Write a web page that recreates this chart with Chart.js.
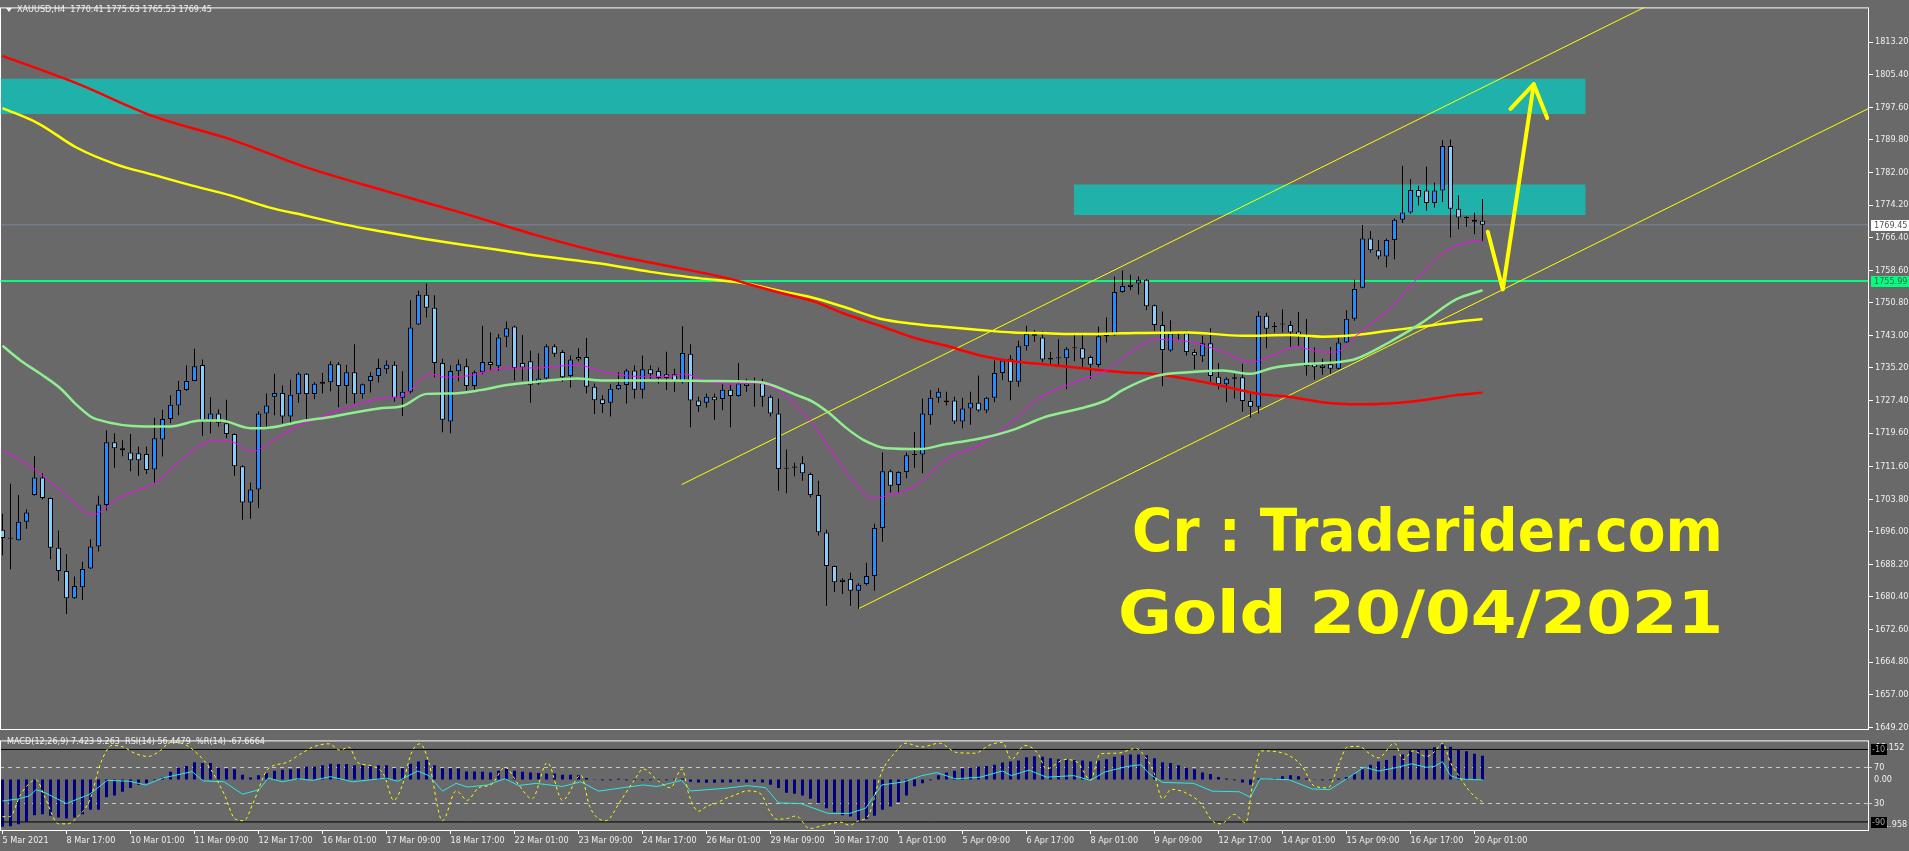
<!DOCTYPE html>
<html>
<head>
<meta charset="utf-8">
<title>XAUUSD H4</title>
<script src="https://cdn.jsdelivr.net/npm/chart.js@4.4.1/dist/chart.umd.min.js"></script>
<style>
  html, body { margin: 0; padding: 0; }
  body { width: 1909px; height: 851px; background: #696969; position: relative; overflow: hidden;
         font-family: "DejaVu Sans Condensed", "DejaVu Sans", sans-serif; }
  canvas { position: absolute; left: 0; }
  #mainChart { top: 0; }
  #indChart { top: 733px; }
  .txt { position: absolute; color: #f2f2f2; font-size: 9px; line-height: 11px; white-space: pre; }
  .big { position: absolute; color: #ffff00; font: bold 58px "DejaVu Sans", sans-serif; line-height: 58px;
         white-space: pre; transform-origin: 0 0; }
  .tri { position: absolute; left: 6px; top: 8px; width: 0; height: 0; border-left: 3px solid transparent;
         border-right: 3px solid transparent; border-top: 4px solid #f2f2f2; }
</style>
</head>
<body>
<canvas id="mainChart" width="1909" height="740"></canvas>
<canvas id="indChart" width="1909" height="118"></canvas>
<div class="tri"></div>
<div class="txt" id="title" style="left:17px;top:4px"></div>
<div class="txt" id="indTitle" style="left:7px;top:736px"></div>
<div class="big" id="big1" style="left:1132px;top:502px"></div>
<div class="big" id="big2" style="left:1118px;top:584px"></div>
<script>
// ---- data (bar index 0 = 5 Mar 2021, 185 = 20 Apr 05:00) ----
const open = [
  1696.5, 1694.4, 1694.0, 1698.4, 1704.8, 1709.0, 1704.1, 1692.2, 1686.6, 1680.1,
  1682.7, 1687.2, 1692.5, 1702.4, 1717.4, 1716.0, 1715.0, 1714.8, 1714.6, 1710.9,
  1718.1, 1723.0, 1726.2, 1729.9, 1732.1, 1735.9, 1722.6, 1724.3, 1722.0, 1719.4,
  1711.7, 1703.0, 1706.1, 1724.3, 1728.3, 1729.2, 1723.6, 1728.9, 1733.8, 1729.0,
  1731.4, 1731.8, 1736.1, 1730.9, 1734.2, 1728.9, 1732.1, 1733.3, 1734.9, 1736.0,
  1728.1, 1729.5, 1745.6, 1752.7, 1749.6, 1736.4, 1722.4, 1734.4, 1735.6, 1730.9,
  1734.2, 1736.6, 1735.6, 1742.7, 1745.1, 1736.4, 1736.8, 1731.5, 1732.7, 1740.4,
  1739.0, 1733.3, 1737.8, 1737.8, 1730.7, 1727.7, 1726.9, 1730.1, 1731.1, 1734.6,
  1730.0, 1734.9, 1734.5, 1733.7, 1733.7, 1731.9, 1738.6, 1727.4, 1726.9, 1728.3,
  1727.8, 1730.0, 1728.5, 1731.5, 1731.7, 1731.7, 1728.3, 1724.3, 1711.3, 1711.3,
  1712.4, 1709.8, 1704.8, 1695.8, 1687.8, 1684.0, 1684.7, 1681.9, 1683.5, 1685.4,
  1696.9, 1710.5, 1707.2, 1710.3, 1714.5, 1714.5, 1723.9, 1728.1, 1727.0, 1727.4,
  1722.4, 1725.5, 1726.9, 1725.0, 1728.1, 1734.0, 1737.4, 1731.9, 1740.4, 1743.3,
  1742.5, 1737.2, 1737.6, 1737.5, 1739.9, 1739.9, 1737.8, 1735.9, 1742.8, 1743.1,
  1753.4, 1754.6, 1755.4, 1756.3, 1750.2, 1745.5, 1739.4, 1743.5, 1743.5, 1739.0,
  1738.0, 1741.1, 1733.1, 1731.3, 1732.6, 1733.0, 1727.3, 1725.9, 1747.7, 1745.0,
  1745.7, 1745.5, 1743.9, 1743.1, 1736.2, 1735.2, 1736.1, 1735.0, 1741.3, 1747.0,
  1754.4, 1766.2, 1763.4, 1761.9, 1765.8, 1770.7, 1772.4, 1777.8, 1777.7, 1774.7,
  1777.7, 1788.3, 1773.3, 1771.2, 1770.7, 1770.41
];
const high = [
  1700.3, 1707.5, 1704.8, 1701.3, 1714.1, 1710.0, 1704.2, 1696.3, 1690.6, 1685.3,
  1688.8, 1694.2, 1704.6, 1720.3, 1719.6, 1717.9, 1719.4, 1716.4, 1716.4, 1723.3,
  1725.2, 1728.7, 1732.1, 1735.8, 1739.8, 1737.2, 1728.2, 1725.3, 1727.6, 1719.6,
  1711.9, 1707.8, 1724.8, 1729.1, 1733.8, 1731.0, 1732.4, 1734.2, 1734.0, 1731.8,
  1734.0, 1736.8, 1736.6, 1735.9, 1740.9, 1731.5, 1734.2, 1737.4, 1737.0, 1736.8,
  1734.4, 1751.4, 1753.7, 1755.4, 1752.6, 1737.4, 1735.8, 1737.2, 1737.4, 1734.6,
  1745.3, 1743.7, 1743.3, 1746.3, 1745.3, 1743.1, 1739.4, 1738.7, 1740.9, 1740.9,
  1739.5, 1738.2, 1739.9, 1742.4, 1731.5, 1728.7, 1731.3, 1734.2, 1735.0, 1735.8,
  1738.2, 1735.8, 1735.3, 1739.1, 1735.0, 1745.2, 1740.9, 1728.3, 1729.1, 1729.1,
  1731.5, 1731.1, 1736.4, 1732.6, 1732.9, 1732.6, 1728.7, 1727.9, 1715.7, 1712.5,
  1714.1, 1710.1, 1708.2, 1696.5, 1687.9, 1684.9, 1686.2, 1683.7, 1688.6, 1697.9,
  1715.0, 1710.9, 1710.5, 1715.0, 1719.9, 1727.9, 1729.9, 1730.4, 1729.5, 1728.3,
  1728.1, 1729.5, 1733.4, 1728.3, 1737.0, 1737.4, 1738.3, 1741.7, 1745.3, 1744.3,
  1743.9, 1739.0, 1742.1, 1740.2, 1743.1, 1743.1, 1738.2, 1745.1, 1747.3, 1757.1,
  1758.5, 1757.5, 1757.1, 1756.5, 1750.4, 1748.7, 1746.6, 1743.6, 1744.1, 1739.7,
  1742.9, 1744.7, 1736.4, 1733.0, 1733.8, 1736.2, 1729.1, 1748.8, 1748.4, 1746.2,
  1749.2, 1746.5, 1748.6, 1746.9, 1740.1, 1737.4, 1740.2, 1742.5, 1749.0, 1756.3,
  1769.4, 1768.0, 1765.8, 1766.2, 1771.0, 1783.6, 1780.4, 1778.8, 1783.4, 1779.6,
  1789.7, 1789.9, 1776.5, 1771.5, 1772.4, 1775.63
];
const low = [
  1690.4, 1687.0, 1693.9, 1696.7, 1704.6, 1703.7, 1689.4, 1684.2, 1676.3, 1679.9,
  1679.7, 1687.1, 1691.3, 1701.1, 1711.3, 1714.1, 1710.5, 1709.4, 1709.8, 1707.8,
  1714.0, 1722.0, 1723.9, 1729.7, 1732.0, 1719.0, 1719.5, 1721.2, 1718.4, 1709.4,
  1698.9, 1699.1, 1701.7, 1721.2, 1723.9, 1722.0, 1721.6, 1726.9, 1722.8, 1727.7,
  1729.1, 1729.6, 1725.8, 1726.7, 1726.7, 1727.9, 1729.3, 1731.7, 1733.8, 1727.1,
  1723.7, 1729.1, 1745.5, 1747.3, 1733.0, 1719.8, 1719.6, 1732.0, 1729.8, 1729.9,
  1733.7, 1734.6, 1734.6, 1740.2, 1732.2, 1732.2, 1726.9, 1731.2, 1732.3, 1737.8,
  1731.9, 1730.5, 1736.8, 1729.1, 1724.2, 1724.4, 1723.6, 1729.9, 1726.7, 1727.9,
  1727.9, 1732.6, 1731.5, 1729.9, 1729.5, 1731.5, 1721.0, 1724.7, 1725.7, 1722.8,
  1725.1, 1721.0, 1728.3, 1729.5, 1725.9, 1725.9, 1723.6, 1705.8, 1705.2, 1709.3,
  1708.2, 1704.2, 1695.1, 1678.3, 1681.6, 1681.1, 1678.3, 1677.5, 1683.2, 1681.9,
  1693.6, 1705.4, 1705.4, 1708.8, 1711.3, 1710.0, 1721.6, 1726.9, 1726.2, 1721.8,
  1720.8, 1721.6, 1724.7, 1724.4, 1727.0, 1732.3, 1727.5, 1730.7, 1739.4, 1741.5,
  1736.6, 1736.0, 1735.6, 1730.1, 1736.8, 1735.4, 1732.6, 1735.4, 1741.3, 1742.9,
  1753.2, 1753.8, 1752.8, 1749.1, 1744.1, 1730.8, 1739.1, 1742.0, 1738.2, 1734.9,
  1736.6, 1731.9, 1730.1, 1727.0, 1727.9, 1724.7, 1723.3, 1724.3, 1739.9, 1743.7,
  1743.7, 1740.3, 1740.5, 1733.4, 1732.4, 1733.6, 1733.8, 1734.9, 1741.2, 1746.5,
  1754.3, 1762.8, 1761.2, 1759.3, 1761.2, 1769.9, 1772.1, 1774.1, 1772.8, 1773.6,
  1774.9, 1766.4, 1768.4, 1769.0, 1767.2, 1765.53
];
const close = [
  1694.5, 1694.3, 1698.4, 1700.6, 1709.0, 1704.1, 1692.2, 1686.6, 1680.1, 1683.0,
  1687.1, 1692.5, 1702.5, 1717.4, 1716.0, 1715.5, 1713.1, 1713.1, 1710.8, 1718.4,
  1723.0, 1726.4, 1729.9, 1732.1, 1735.6, 1722.6, 1724.3, 1722.1, 1719.4, 1711.7,
  1703.0, 1706.1, 1724.3, 1726.2, 1729.2, 1723.6, 1728.8, 1733.8, 1729.0, 1731.4,
  1731.9, 1736.1, 1730.9, 1734.2, 1728.9, 1731.3, 1733.3, 1735.2, 1736.0, 1728.1,
  1729.5, 1744.9, 1752.7, 1749.6, 1736.4, 1722.8, 1734.5, 1736.1, 1730.9, 1734.2,
  1736.6, 1735.9, 1742.5, 1744.7, 1735.2, 1735.3, 1731.2, 1732.7, 1740.4, 1738.6,
  1733.0, 1737.2, 1737.2, 1730.7, 1727.5, 1726.6, 1730.2, 1731.1, 1734.6, 1730.0,
  1734.9, 1733.7, 1732.8, 1732.8, 1731.9, 1738.8, 1727.4, 1726.1, 1728.3, 1727.5,
  1730.0, 1728.5, 1731.5, 1730.9, 1732.0, 1728.3, 1724.3, 1711.0, 1711.1, 1711.6,
  1710.0, 1704.8, 1695.9, 1687.8, 1683.9, 1684.5, 1681.9, 1683.3, 1685.4, 1696.9,
  1710.5, 1707.0, 1710.3, 1714.3, 1714.4, 1724.3, 1728.1, 1729.5, 1727.4, 1722.4,
  1725.5, 1726.9, 1725.0, 1728.1, 1734.0, 1737.0, 1731.9, 1740.4, 1743.3, 1742.9,
  1737.2, 1737.6, 1737.5, 1739.8, 1740.0, 1737.4, 1736.0, 1742.8, 1743.1, 1753.4,
  1754.8, 1755.1, 1756.3, 1750.0, 1745.5, 1739.5, 1743.5, 1743.4, 1739.0, 1738.2,
  1741.1, 1733.3, 1731.3, 1732.6, 1733.0, 1727.3, 1725.9, 1747.7, 1744.6, 1745.1,
  1745.6, 1743.7, 1743.1, 1735.6, 1735.4, 1735.8, 1735.0, 1741.3, 1747.0, 1754.1,
  1766.2, 1763.4, 1761.9, 1765.8, 1770.7, 1772.4, 1777.8, 1776.2, 1774.7, 1777.7,
  1788.3, 1773.3, 1771.2, 1771.1, 1770.2, 1769.45
];

// moving averages, read as [bar, price] points
const maRed = [[0,1809.9],[9.3,1803.3],[18.9,1795.4],[28.5,1789.9],[38,1783.2],[47.6,1777.7],[57.1,1772.5],
  [66.7,1767.0],[74.75,1762.9],[83.5,1759.5],[87.7,1757.9],[91.8,1756.1],[93,1755.4],[97.2,1753.2],[101.3,1751.2],
  [105.5,1748.0],[109.7,1745.3],[113.8,1742.5],[118,1740.5],[122.2,1738.2],[126.3,1736.8],[130.5,1736.0],
  [134.7,1735.2],[140,1734.2],[144.2,1733.7],[148.3,1732.5],[152.5,1730.9],[156.7,1729.1],[160.8,1728.3],
  [165,1727.0],[169.2,1726.5],[173.3,1726.7],[177.5,1727.5],[181.7,1728.7],[185,1729.3]];
const maYellow = [[0,1797.4],[4.5,1793.7],[9.3,1787.9],[14.1,1784.0],[18.9,1781.4],[23.6,1778.9],[28.5,1776.5],
  [33.2,1773.7],[38,1771.6],[42.8,1769.5],[47.6,1767.8],[52.4,1766.2],[57.1,1764.8],[61.9,1763.5],[66.7,1762.1],
  [74.75,1760.2],[81,1758.2],[87,1756.7],[93,1755.4],[97.2,1753.6],[101.3,1752.0],[105.5,1749.6],[109.7,1747.0],
  [113.8,1745.8],[118,1745.0],[122.2,1744.3],[126.3,1743.7],[130.5,1743.5],[134.7,1743.3],[140,1743.5],
  [148.3,1743.7],[155,1742.9],[160.8,1743.1],[165,1742.7],[169.2,1743.1],[173.3,1744.1],[177.5,1745.1],
  [181.7,1746.2],[185,1746.9]];
const maGreen = [[0,1740.5],[2.25,1737.0],[4.75,1733.8],[7.25,1730.3],[9.3,1726.3],[11,1723.6],[11.8,1722.9],
  [17.7,1721.2],[21,1721.2],[24.75,1722.6],[27.25,1722.6],[31,1720.8],[32.7,1720.8],[37.25,1722.4],[41.4,1723.6],
  [47,1725.5],[50,1726.1],[53,1729.0],[56.4,1729.1],[59.75,1729.9],[63,1731.1],[66.8,1731.9],[71.8,1732.7],
  [75,1732.2],[81.4,1732.2],[87.7,1732.1],[93.5,1731.9],[95.5,1731.5],[99.25,1728.7],[101.3,1727.1],
  [103.4,1724.3],[105.5,1720.8],[107.6,1718.0],[110.5,1716.0],[114.7,1715.8],[118,1717.0],[122.2,1718.3],
  [126.3,1720.4],[130.5,1723.6],[134.7,1725.5],[138,1727.5],[140,1729.9],[144.2,1733.3],[148.3,1734.2],
  [152.5,1734.6],[156,1733.8],[158.75,1735.2],[163,1736.2],[167,1736.6],[169.2,1737.4],[173.3,1741.3],
  [177.5,1746.1],[181.7,1751.6],[185,1753.8]];
const maMagenta = [[0,1715.5],[4,1711.0],[8,1704.6],[11.3,1700.1],[14.3,1703.8],[17.3,1706.2],[19.2,1707.8],
  [22,1712.5],[24.5,1716.5],[27,1717.9],[29,1717.3],[31,1715.1],[34.3,1718.4],[36,1720.4],[39,1722.8],
  [42.3,1725.2],[44,1726.3],[47,1727.8],[50.2,1728.7],[53.5,1733.8],[55.2,1733.0],[58.5,1733.4],[62.7,1735.2],
  [66.8,1735.2],[69.3,1735.6],[71.8,1735.9],[75.2,1734.2],[79.3,1733.2],[83.5,1733.2],[85.2,1733.8],
  [87.7,1732.2],[91,1731.3],[93.5,1731.6],[95.5,1731.2],[100.5,1723.6],[103.4,1716.1],[106.3,1708.2],
  [108.8,1704.0],[110.5,1704.6],[113.8,1706.6],[118,1713.3],[122.2,1716.8],[126.3,1722.4],[129.25,1727.5],
  [134.7,1732.3],[138,1734.6],[140,1737.4],[144.2,1742.0],[148.3,1741.5],[152.5,1739.1],[156,1736.6],
  [158.75,1738.2],[161.7,1740.2],[165,1739.0],[166.7,1739.0],[169.2,1742.9],[173.3,1749.2],[177.5,1757.9],
  [180,1762.7],[183.3,1765.3],[185,1765.8]];

// drawn objects
const zoneTop = [1804.4, 1779.1];
const zoneBottom = [1796.0, 1771.8];
const zoneStart = [-5, 133.9];
const zoneEnd = [197.9, 197.9];
const channelBars = [[84.9, 240], [107, 240]];
const channelPrices = [[1707.3, 1854.5], [1677.6, 1803.7]];
const arrowBars = [185.66, 187.54, 191.41];
const arrowPrices = [1767.8, 1754.0, 1803.1];
const arrowHeadBars = [188.5, 191.41, 193.09];
const arrowHeadPrices = [1797.2, 1803.1, 1795.0];
const currentPrice = 1769.45;
const levelPrice = 1755.99;

const priceTicks = [1813.20, 1805.40, 1797.60, 1789.80, 1782.00, 1774.20, 1766.40, 1758.60, 1750.80, 1743.00,
  1735.20, 1727.40, 1719.60, 1711.60, 1703.80, 1696.00, 1688.20, 1680.40, 1672.60, 1664.80, 1657.00, 1649.20];
const timeTicks = [0, 8, 16, 24, 32, 40, 48, 56, 64, 72, 80, 88, 96, 104, 112, 120, 128, 136, 144, 152, 160, 168, 176, 184];
const timeLabels = ['5 Mar 2021', '8 Mar 17:00', '10 Mar 01:00', '11 Mar 09:00', '12 Mar 17:00', '16 Mar 01:00',
  '17 Mar 09:00', '18 Mar 17:00', '22 Mar 01:00', '23 Mar 09:00', '24 Mar 17:00', '26 Mar 01:00', '29 Mar 09:00',
  '30 Mar 17:00', '1 Apr 01:00', '5 Apr 09:00', '6 Apr 17:00', '8 Apr 01:00', '9 Apr 09:00', '12 Apr 17:00',
  '14 Apr 01:00', '15 Apr 09:00', '16 Apr 17:00', '20 Apr 01:00'];

// indicator window
const macdHist = [
  -14.7, -14.5, -13.9, -13.1, -11.1, -10.8, -11.3, -11.8, -12.1, -11.8,
  -10.8, -9.4, -9.4, -5.5, -5.0, -3.8, -2.6, -1.6, -1.2, -0.2,
  0.6, 2.4, 3.7, 4.2, 5.4, 5.1, 5.1, 3.7, 3.4, 3.2,
  1.5, 0.6, 1.3, 2.0, 2.7, 3.0, 3.2, 3.4, 4.0, 4.0,
  4.4, 4.9, 4.8, 4.8, 4.4, 4.4, 4.2, 4.4, 4.4, 3.5,
  3.5, 4.9, 5.6, 6.1, 4.4, 3.5, 3.5, 3.4, 2.5, 2.5,
  2.4, 2.2, 2.7, 3.4, 2.7, 2.4, 2.2, 2.0, 1.9, 1.9,
  1.5, 1.5, 1.3, 0.5, 0.1, -0.2, -0.2, 0.2, -0.2, -0.2,
  -0.2, -0.2, -0.2, -0.2, 0.2, 0.3, -0.7, -0.9, -1.0, -1.0,
  -0.9, -0.9, -0.7, -0.9, -0.7, -0.9, -1.6, -2.6, -4.1, -4.4,
  -5.0, -6.0, -7.4, -8.9, -10.2, -11.1, -11.5, -12.8, -12.3, -11.3,
  -9.4, -8.4, -7.0, -5.0, -2.1, -1.2, -0.2, 1.3, 2.2, 2.7,
  3.4, 3.7, 4.0, 4.2, 4.6, 5.3, 5.6, 5.9, 6.9, 7.2,
  7.1, 6.6, 6.3, 6.3, 6.1, 5.9, 5.6, 5.9, 6.3, 7.1,
  7.5, 7.8, 7.8, 7.5, 6.6, 5.4, 5.1, 4.4, 3.7, 3.2,
  2.2, 1.7, 0.8, 0.3, -0.2, -0.9, -1.6, 0.3, 0.1, 0.3,
  1.0, 1.3, 1.0, 0.3, 0.1, -0.2, -0.2, 0.3, 0.8, 1.7,
  3.2, 4.6, 5.6, 6.1, 7.4, 7.8, 9.0, 9.2, 9.5, 10.0,
  10.9, 10.2, 9.5, 8.8, 8.0, 7.4
];
const rsiBars = [0, 2, 3.4, 4.2, 5.3, 8, 10.9, 13.1, 15.9, 17.9, 20.1, 23.7, 25.1, 27.7, 30, 32.1, 33.2, 35, 36.9,
  38.8, 41, 43.8, 48, 49.4, 51.9, 53.3, 55, 56.7, 58.1, 60.6, 62.8, 64.5, 66.7, 70, 72.3, 74.5, 77.9, 80.1, 81.8,
  84.9, 86, 90.3, 93.1, 95.4, 97, 99.8, 103.2, 105.9, 107.9, 109.9, 112.7, 114.9, 116.8, 119.1, 122.2, 125, 126.1,
  128.3, 130.5, 133.9, 136, 137.8, 140.6, 142.3, 143.4, 145, 148.9, 151.2, 154.6, 156, 157.2, 160.8, 162.7, 163.7,
  165.9, 168.1, 170.2, 172, 174, 176.1, 178, 179, 180, 181, 182.1, 183.1, 185];
const rsiValues = [33.1, 35.4, 38.9, 45.7, 42.3, 30.3, 40.6, 55.9, 54.9, 50.8, 58.7, 65.5, 55.3, 54.3, 40.6, 45.7,
  58.4, 54.3, 57.7, 55.9, 60.0, 54.3, 58.4, 54.9, 66.2, 61.1, 44.0, 52.6, 48.5, 50.8, 57.7, 50.2, 52.6, 49.1, 54.3,
  44.0, 48.2, 50.8, 49.1, 55.9, 44.2, 47.1, 50.0, 47.9, 31.0, 30.3, 19.4, 19.4, 25.2, 50.8, 54.3, 61.1, 64.5, 57.7,
  59.4, 66.2, 61.1, 67.2, 59.4, 61.1, 55.9, 65.2, 71.3, 73.1, 62.8, 53.6, 52.6, 44.0, 43.3, 37.2, 57.7, 56.6, 50.0,
  46.4, 45.7, 58.0, 70.5, 66.2, 69.6, 74.1, 70.3, 71.3, 76.5, 61.1, 57.7, 57.0, 56.4];
const wprBars = [0, 0.9, 2.3, 4.2, 5.3, 7, 8.1, 9.5, 10.9, 12.3, 13.7, 15.1, 16.5, 18.2, 19.8, 21, 22.6, 24.3, 26,
  27.7, 29.1, 30.2, 31.3, 33.2, 35.5, 37.1, 38.8, 40.8, 42.2, 43.3, 44.4, 46.1, 47.7, 48.9, 50, 51.1, 52.2, 53.3,
  55, 56.7, 58.1, 59.5, 61.1, 62.8, 64.5, 66.2, 68.1, 70, 72.3, 73.4, 75.4, 77.3, 79, 80.1, 81.8, 83.5, 84.9, 85.9,
  87, 88.1, 89.2, 90.3, 91.4, 93.1, 94.8, 95.9, 96.7, 98.1, 99.2, 100.9, 102.6, 104.8, 105.9, 107, 108.2, 109.9,
  111.5, 112.9, 114.9, 117.1, 119.3, 121.6, 123.3, 125, 126.1, 127.8, 129.4, 130.5, 132.8, 134.4, 136, 137.2,
  139.4, 141.7, 142.8, 143.9, 145, 146.1, 147.8, 149.8, 151.2, 152.3, 154, 155.4, 156.2, 157.3, 160.1, 162.4, 164,
  165.7, 167.1, 168.1, 169.6, 170.8, 172, 174, 175.1, 176.3, 178, 179, 180, 181, 182, 183.2, 184.2, 185];
const wprValues = [-84.2, -84.2, -59.2, -43.6, -62.7, -92.1, -92.1, -83.4, -66.1, -24.5, -5.5, -7.3, -14.1, -17.7,
  -10.7, -2.1, -3.8, -14.1, -31.5, -59.2, -86.9, -88.6, -69.6, -31.5, -24.5, -15.9, -7.3, -3.8, -10.7, -7.3, -24.5,
  -28.0, -38.4, -66.1, -48.8, -14.1, -3.8, -24.5, -88.6, -55.7, -66.1, -52.3, -48.8, -29.7, -48.8, -64.4, -24.5,
  -66.1, -38.4, -73.0, -88.6, -66.1, -43.6, -31.5, -43.6, -52.3, -31.5, -62.7, -78.2, -72.3, -69.6, -64.4, -60.9,
  -55.7, -59.2, -78.2, -86.9, -86.2, -83.4, -97.3, -93.8, -90.3, -93.8, -88.6, -83.4, -35.0, -14.1, -3.1, -7.3,
  -3.1, -13.4, -14.1, -5.5, -2.1, -21.1, -5.5, -14.1, -31.5, -21.1, -24.5, -43.6, -14.8, -14.1, -8.9, -17.7, -35.0,
  -64.4, -54.0, -57.5, -69.6, -88.6, -92.1, -81.7, -91.0, -52.3, -11.6, -14.1, -28.0, -50.5, -52.3, -24.5, -7.3,
  -6.6, -14.1, -19.3, -3.1, -21.1, -11.5, -17.7, -12.5, -3.1, -24.5, -38.4, -54.0, -63.3, -67.7];
const wprLevels = [-10, -90];
const rsiLevels = [70, 30];
const macdRange = [-16, 12.152];        // MACD pane scale, zero sits 43 px under the top
const macdAxisLabels = ['12.152', '0.00', '-21.958'];

const titleText = 'XAUUSD,H4  1770.41 1775.63 1765.53 1769.45';
const indTitleText = 'MACD(12,26,9) 7.423 9.263  RSI(14) 56.4479  %R(14) -67.6664';
const bigTexts = ['Cr : Traderider.com', 'Gold 20/04/2021'];

// ---- chart setup ----
const FONT = '"DejaVu Sans Condensed", "DejaVu Sans", sans-serif';
const xMin = -0.3125, xMax = 233.3125;   // 8 px per bar, 1869 px plot width
const priceMax = 1821.49, priceMin = 1648.56;

Chart.defaults.font.family = FONT;
Chart.defaults.font.size = 9;
Chart.defaults.color = '#f0f0f0';
Chart.defaults.animation = false;
Chart.defaults.plugins.legend.display = false;
Chart.defaults.plugins.tooltip.enabled = false;

const bars = open.map((_, i) => i);
const pts = (xs, ys) => xs.map((x, i) => ({ x: x, y: ys[i] }));
const pairs = arr => arr.map(p => ({ x: p[0], y: p[1] }));
function line(data, color, width, extra) {
  return Object.assign({ type: 'line', data: data, borderColor: color, borderWidth: width,
    pointRadius: 0, fill: false, tension: 0 }, extra || {});
}

const frame = {
  id: 'frame',
  afterDraw(c) {
    const a = c.chartArea, ctx = c.ctx;
    ctx.save();
    ctx.strokeStyle = '#ffffff';
    ctx.lineWidth = 1;
    ctx.strokeRect(a.left + 0.5, a.top + 0.5, a.right - a.left - 1, a.bottom - a.top - 1);
    ctx.restore();
  }
};

const priceBoxes = {
  id: 'priceBoxes',
  afterDraw(c) {
    const ctx = c.ctx, a = c.chartArea, y = c.scales.y;
    ctx.save();
    ctx.font = '9px ' + FONT;
    ctx.textBaseline = 'middle';
    [[currentPrice, '#ffffff'], [levelPrice, '#00ff7f']].forEach(function (b) {
      const py = Math.round(y.getPixelForValue(b[0]));
      ctx.fillStyle = b[1];
      ctx.fillRect(a.right + 2, py - 5, 38, 11);
      ctx.fillStyle = '#555555';
      ctx.fillText(b[0].toFixed(2), a.right + 5, py + 0.5);
    });
    ctx.restore();
  }
};

const mainSets = [];
zoneTop.forEach(function (t, k) {
  mainSets.push(line(pts([zoneStart[k], zoneEnd[k]], [t, t]), 'rgba(0,0,0,0)', 1,
    { fill: { value: zoneBottom[k] }, backgroundColor: '#20b2aa', order: 10 }));
});
mainSets.push(line(pts([xMin, xMax], [levelPrice, levelPrice]), '#00ff7f', 2, { order: 9 }));
mainSets.push(line(pts([xMin, xMax], [currentPrice, currentPrice]), '#778899', 1, { order: 9 }));
channelBars.forEach(function (b, k) {
  mainSets.push(line(pts(b, channelPrices[k]), '#ffff00', 1, { order: 8 }));
});
mainSets.push({ type: 'bar', data: bars.map(i => ({ x: i, y: [low[i], high[i]] })), backgroundColor: '#000000',
  barThickness: 1, grouped: false, inflateAmount: 0, order: 6 });
mainSets.push({ type: 'bar', data: bars.map(i => ({ x: i, y: [open[i], close[i]] })),
  backgroundColor: bars.map(i => close[i] >= open[i] ? '#1e90ff' : '#87cefa'),
  borderColor: '#000000', borderWidth: 1, borderSkipped: false, barThickness: 5, minBarLength: 1,
  grouped: false, inflateAmount: 0, order: 5 });
mainSets.push(line(pairs(maRed), '#ff0000', 2.5, { cubicInterpolationMode: 'monotone', order: 4 }));
mainSets.push(line(pairs(maYellow), '#ffff00', 2.5, { cubicInterpolationMode: 'monotone', order: 4 }));
mainSets.push(line(pairs(maGreen), '#90ee90', 2.5, { cubicInterpolationMode: 'monotone', order: 3 }));
mainSets.push(line(pairs(maMagenta), '#ff00ff', 1, { cubicInterpolationMode: 'monotone', order: 3 }));
mainSets.push(line(pts(arrowBars, arrowPrices), '#ffff00', 4, { borderCapStyle: 'round', borderJoinStyle: 'round', order: 1 }));
mainSets.push(line(pts(arrowHeadBars, arrowHeadPrices), '#ffff00', 4, { borderCapStyle: 'round', borderJoinStyle: 'round', order: 1 }));

new Chart(document.getElementById('mainChart'), {
  type: 'bar',
  data: { datasets: mainSets },
  plugins: [frame, priceBoxes],
  options: {
    responsive: false,
    layout: { padding: { top: 0, left: 0, right: 0, bottom: 10 } },
    scales: {
      x: { type: 'linear', min: xMin, max: xMax, offset: false, display: false, grid: { offset: false } },
      y: {
        position: 'right', min: priceMin, max: priceMax,
        afterBuildTicks: s => { s.ticks = priceTicks.map(v => ({ value: v })); },
        afterFit: s => { s.width = 40; },
        ticks: { color: '#f0f0f0', padding: 2, autoSkip: false, callback: v => Number(v).toFixed(2) },
        grid: { drawOnChartArea: false, color: '#ffffff', tickLength: 4 },
        border: { display: false }
      }
    }
  }
});

// ---- indicator window ----
const indLabels = {
  id: 'indLabels',
  afterDraw(c) {
    const ctx = c.ctx, a = c.chartArea, s = c.scales;
    ctx.save();
    ctx.font = '9px ' + FONT;
    ctx.textBaseline = 'middle';
    ctx.fillStyle = '#f0f0f0';
    ctx.fillText(macdAxisLabels[0], a.right + 7, a.top + 7);
    ctx.fillText(macdAxisLabels[1], a.right + 5, s.macd.getPixelForValue(0));
    ctx.fillText(macdAxisLabels[2], a.right + 7, a.bottom - 6);
    wprLevels.forEach(function (v) {
      const y = Math.round(s.wpr.getPixelForValue(v));
      ctx.fillStyle = '#000000';
      ctx.fillRect(a.right + 2, y - 5, 16, 11);
      ctx.fillStyle = '#a0a0a0';
      ctx.fillText(String(v), a.right + 3, y + 0.5);
    });
    ctx.restore();
  }
};

new Chart(document.getElementById('indChart'), {
  type: 'bar',
  data: {
    datasets: [
      { type: 'bar', data: bars.map(i => ({ x: i, y: macdHist[i] })), yAxisID: 'macd', backgroundColor: '#000080',
        barThickness: 3, grouped: false, inflateAmount: 0, order: 5 },
      line(pts([xMin, xMax], [wprLevels[0], wprLevels[0]]), '#000000', 1, { yAxisID: 'wpr', order: 4 }),
      line(pts([xMin, xMax], [wprLevels[1], wprLevels[1]]), '#000000', 1, { yAxisID: 'wpr', order: 4 }),
      line(pts(rsiBars, rsiValues), '#2ee6e6', 1, { yAxisID: 'rsi', order: 2 }),
      line(pts(wprBars, wprValues), '#ffff00', 1, { yAxisID: 'wpr', borderDash: [3, 3], cubicInterpolationMode: 'monotone', order: 1 })
    ]
  },
  plugins: [frame, indLabels],
  options: {
    responsive: false,
    layout: { padding: { top: 1, left: 0, right: 0, bottom: 0 } },
    scales: {
      x: {
        type: 'linear', min: xMin, max: xMax, offset: false, position: 'bottom',
        afterBuildTicks: s => { s.ticks = timeTicks.map(v => ({ value: v })); },
        afterFit: s => { s.height = 20; },
        ticks: { align: 'start', maxRotation: 0, minRotation: 0, autoSkip: false, padding: 1, color: '#f0f0f0',
                 callback: v => timeLabels[timeTicks.indexOf(v)] },
        grid: { drawOnChartArea: false, color: '#ffffff', tickLength: 3, offset: false },
        border: { display: false }
      },
      rsi: {
        position: 'right', min: 0, max: 100,
        afterBuildTicks: s => { s.ticks = rsiLevels.map(v => ({ value: v })); },
        afterFit: s => { s.width = 40; },
        ticks: { color: '#f0f0f0', padding: 2, autoSkip: false, callback: v => String(v) },
        grid: { color: '#c8c8c8', tickLength: 3 },
        border: { display: false, dash: [4, 4] }
      },
      macd: { display: false, min: macdRange[0], max: macdRange[1] },
      wpr: { display: false, min: -100, max: 0 }
    }
  }
});

// ---- text overlays ----
document.getElementById('title').textContent = titleText;
document.getElementById('indTitle').textContent = indTitleText;
const bigWidths = [591, 605];
['big1', 'big2'].forEach(function (id, k) {
  const el = document.getElementById(id);
  el.textContent = bigTexts[k];
  el.style.transform = 'scaleX(' + (bigWidths[k] / el.offsetWidth) + ')';
});
</script>
</body>
</html>
